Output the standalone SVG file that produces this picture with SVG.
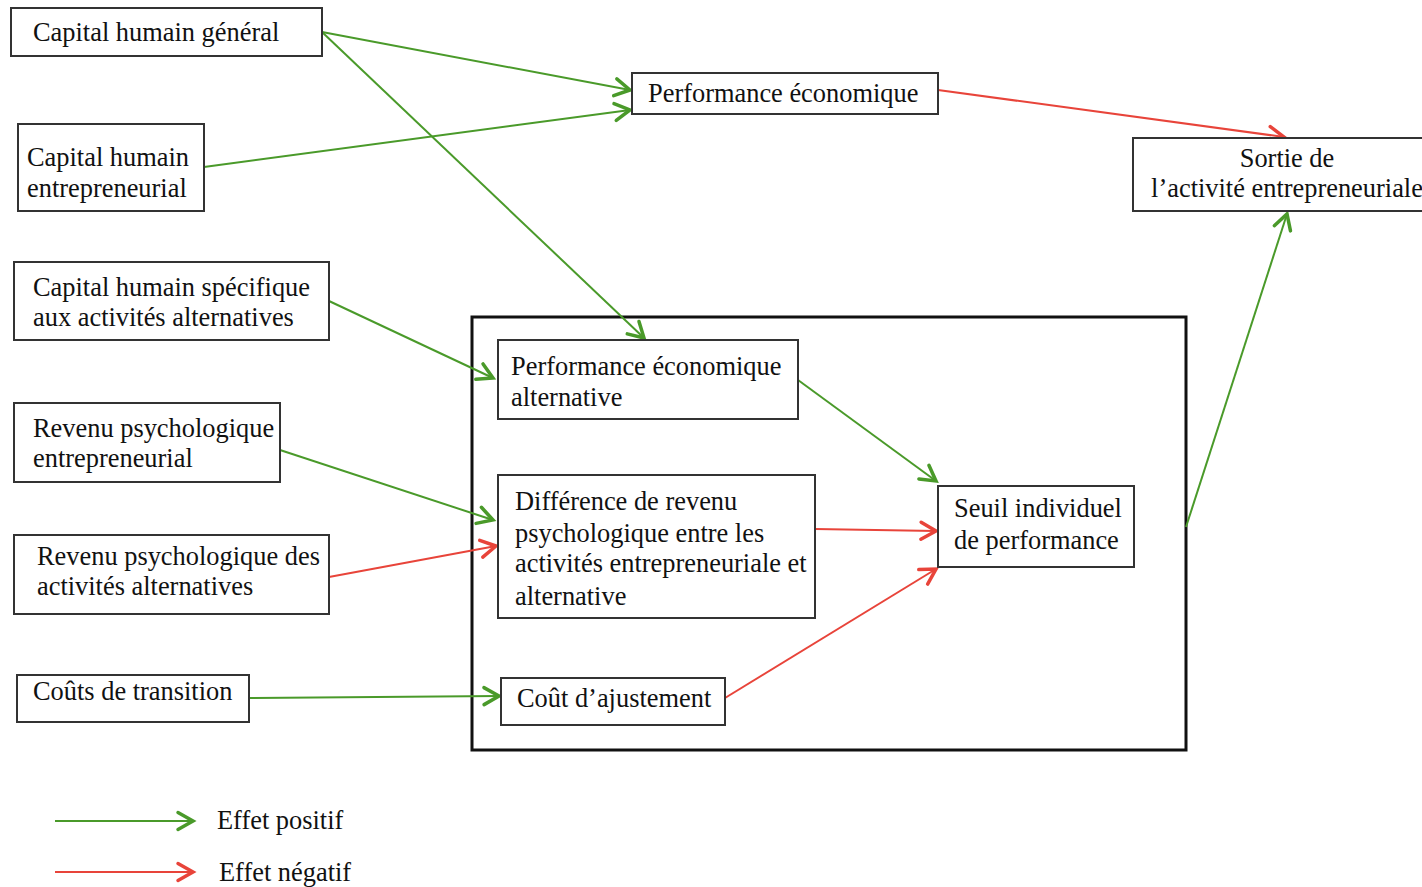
<svg xmlns="http://www.w3.org/2000/svg" width="1422" height="887" viewBox="0 0 1422 887">
<style>
.box{fill:#fff;stroke:#333;stroke-width:2}
.frame{fill:none;stroke:#111;stroke-width:3}
text{font-family:"Liberation Serif","Times New Roman",serif;font-size:26.4px;fill:#111}
.g{stroke:#4a9a2a;stroke-width:2;fill:none}
.r{stroke:#e8443a;stroke-width:2;fill:none}
</style>
<defs>
<marker id="ag" markerUnits="userSpaceOnUse" viewBox="-19 -12 24 24" markerWidth="24" markerHeight="24" refX="0" refY="0" orient="auto">
<path d="M-15,-8.5 L0,0 L-15,8.5" fill="none" stroke="#4a9a2a" stroke-width="3.5" stroke-linecap="round" stroke-linejoin="miter"/>
</marker>
<marker id="ar" markerUnits="userSpaceOnUse" viewBox="-19 -12 24 24" markerWidth="24" markerHeight="24" refX="0" refY="0" orient="auto">
<path d="M-15,-8.5 L0,0 L-15,8.5" fill="none" stroke="#e8443a" stroke-width="3.5" stroke-linecap="round" stroke-linejoin="miter"/>
</marker>
</defs>
<rect width="1422" height="887" fill="#fff"/>
<rect class="frame" x="472" y="317" width="714" height="433"/>
<g id="connectors">
<line class="g" x1="322" y1="32" x2="630" y2="90" marker-end="url(#ag)"/>
<line class="g" x1="322" y1="32" x2="644" y2="338" marker-end="url(#ag)"/>
<line class="g" x1="204" y1="167" x2="630" y2="110" marker-end="url(#ag)"/>
<line class="r" x1="938" y1="90" x2="1284" y2="137" marker-end="url(#ar)"/>
<line class="g" x1="329" y1="301" x2="493" y2="378" marker-end="url(#ag)"/>
<line class="g" x1="280" y1="450" x2="493" y2="520" marker-end="url(#ag)"/>
<line class="r" x1="329" y1="577" x2="496" y2="546" marker-end="url(#ar)"/>
<line class="g" x1="249" y1="698" x2="499" y2="696" marker-end="url(#ag)"/>
<line class="g" x1="798" y1="380" x2="936" y2="481" marker-end="url(#ag)"/>
<line class="r" x1="815" y1="529" x2="936" y2="531" marker-end="url(#ar)"/>
<line class="r" x1="725" y1="698" x2="936" y2="569" marker-end="url(#ar)"/>
<line class="g" x1="1186" y1="527" x2="1287" y2="214" marker-end="url(#ag)"/>
<line class="g" x1="55" y1="821" x2="193" y2="821" marker-end="url(#ag)"/>
<line class="r" x1="55" y1="872" x2="193" y2="872" marker-end="url(#ar)"/>
</g>
<g id="n1"><rect class="box" x="11" y="8" width="311" height="48"/><text x="33" y="41">Capital humain général</text></g>
<g id="n2"><rect class="box" x="18" y="124" width="186" height="87"/><text x="27" y="166">Capital humain</text><text x="27" y="197">entrepreneurial</text></g>
<g id="n3"><rect class="box" x="14" y="262" width="315" height="78"/><text x="33" y="296">Capital humain spécifique</text><text x="33" y="326">aux activités alternatives</text></g>
<g id="n4"><rect class="box" x="14" y="403" width="266" height="79"/><text x="33" y="437">Revenu psychologique</text><text x="33" y="467">entrepreneurial</text></g>
<g id="n5"><rect class="box" x="14" y="535" width="315" height="79"/><text x="37" y="565">Revenu psychologique des</text><text x="37" y="595">activités alternatives</text></g>
<g id="n6"><rect class="box" x="17" y="675" width="232" height="47"/><text x="33" y="700">Coûts de transition</text></g>
<g id="n7"><rect class="box" x="632" y="73" width="306" height="41"/><text x="648" y="102">Performance économique</text></g>
<g id="n8"><rect class="box" x="1133" y="138" width="295" height="73"/><text x="1287" y="167" text-anchor="middle">Sortie de</text><text x="1287" y="197" text-anchor="middle">l’activité entrepreneuriale</text></g>
<g id="n9"><rect class="box" x="498" y="340" width="300" height="79"/><text x="511" y="375">Performance économique</text><text x="511" y="406">alternative</text></g>
<g id="n10"><rect class="box" x="498" y="475" width="317" height="143"/><text x="515" y="510">Différence de revenu</text><text x="515" y="542">psychologique entre les</text><text x="515" y="572">activités entrepreneuriale et</text><text x="515" y="605">alternative</text></g>
<g id="n11"><rect class="box" x="501" y="678" width="224" height="47"/><text x="517" y="707">Coût d’ajustement</text></g>
<g id="n12"><rect class="box" x="938" y="486" width="196" height="81"/><text x="954" y="517">Seuil individuel</text><text x="954" y="549">de performance</text></g>
<g id="legend"><text x="217" y="829">Effet positif</text><text x="219" y="881">Effet négatif</text></g>
</svg>
